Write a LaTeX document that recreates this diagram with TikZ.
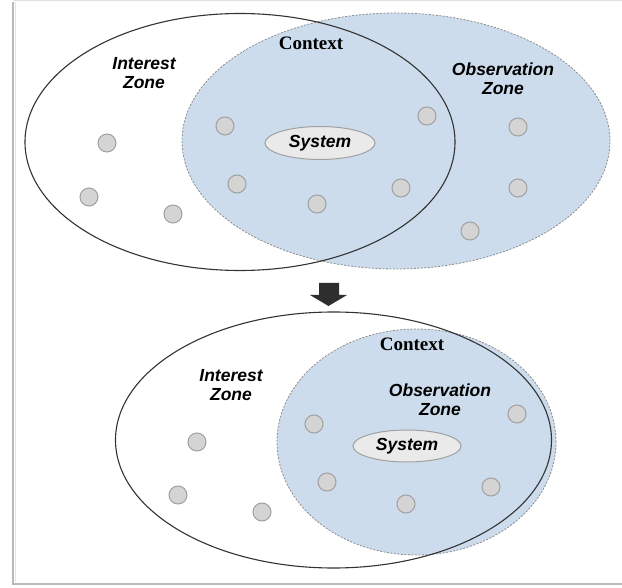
\documentclass[tikz,border=0pt]{standalone}
\usepackage{fontspec}
\setmainfont{Liberation Serif}
\newfontfamily\labfont{Liberation Sans}
\usetikzlibrary{shapes.geometric}
\definecolor{zoneblue}{RGB}{205,220,236}
\definecolor{dotfill}{RGB}{212,212,212}
\definecolor{dotline}{RGB}{160,160,160}
\definecolor{sysfill}{RGB}{234,234,234}
\definecolor{frameg}{RGB}{185,185,185}
\tikzset{
  interest/.style={shape=ellipse, draw=black!80, line width=1.1pt, inner sep=0pt},
  observe/.style={shape=ellipse, fill=zoneblue, draw=black!45, line width=0.8pt, dash pattern=on 2pt off 1.5pt, inner sep=0pt},
  dot/.style={shape=circle, fill=dotfill, draw=dotline, line width=1pt, minimum size=18pt, inner sep=0pt},
  sysbox/.style={shape=ellipse, fill=sysfill, draw=dotline, line width=1pt, inner sep=0pt, minimum width=110pt, minimum height=33pt,
    font=\labfont\bfseries\itshape\fontsize{17.5}{19}\selectfont},
  lab/.style={font=\labfont\bfseries\itshape\fontsize{17.5}{20}\selectfont, align=center, inner sep=0pt},
  ctx/.style={font=\bfseries\fontsize{19}{21}\selectfont, inner sep=0pt},
}
\begin{document}
\begin{tikzpicture}[x=1pt,y=-1pt]
\useasboundingbox (0,0) rectangle (622,588);
\fill[white] (0,0) rectangle (622,588);
% frame
\draw[black!12, line width=1pt] (13,0.8) -- (622,0.8);
\draw[frameg, line width=2.2pt] (13,2) -- (13,584) -- (622,584);
\draw[black!10, line width=1.2pt] (15.5,2) -- (15.5,582) ;
% ---------- top diagram ----------
\node[observe, minimum width=428pt, minimum height=256pt] (obsA) at (396,141) {};
\node[interest, minimum width=430pt, minimum height=257pt] (intA) at (240,142) {};
\node[ctx] (ctxA) at (311,43) {Context};
\node[lab] (izA) at (144,73) {Interest\\[-1pt]Zone};
\node[lab] (ozA) at (503,79) {Observation\\[-1pt]Zone};
\node[sysbox] (sysA) at (320,143) {System};
\node[dot] (a1) at (107,143) {};
\node[dot] (a2) at (89,197) {};
\node[dot] (a3) at (173,214) {};
\node[dot] (a4) at (225,126) {};
\node[dot] (a5) at (237,184) {};
\node[dot] (a6) at (317,204) {};
\node[dot] (a7) at (427,116) {};
\node[dot] (a8) at (401,188) {};
\node[dot] (a9) at (518,127) {};
\node[dot] (a10) at (518,188) {};
\node[dot] (a11) at (470,231) {};
% ---------- arrow ----------
\fill[black!82] (319,283) -- (339,283) -- (339,295) -- (347,295) -- (328.5,306) -- (310,295) -- (319,295) -- cycle;
% ---------- bottom diagram ----------
\node[observe, minimum width=279pt, minimum height=226pt] (obsB) at (416.5,442) {};
\node[interest, minimum width=436pt, minimum height=256pt] (intB) at (333.5,440) {};
\node[ctx] (ctxB) at (412,344) {Context};
\node[lab] (izB) at (231,385) {Interest\\[-1pt]Zone};
\node[lab] (ozB) at (440,400) {Observation\\[-1pt]Zone};
\node[sysbox, minimum width=108pt, minimum height=32pt] (sysB) at (407,446) {System};
\node[dot] (b1) at (197,442) {};
\node[dot] (b2) at (178,495) {};
\node[dot] (b3) at (262,512) {};
\node[dot] (b4) at (314,424) {};
\node[dot] (b5) at (327,482) {};
\node[dot] (b6) at (406,504) {};
\node[dot] (b7) at (491,487) {};
\node[dot] (b8) at (517,414) {};
\end{tikzpicture}
\end{document}
